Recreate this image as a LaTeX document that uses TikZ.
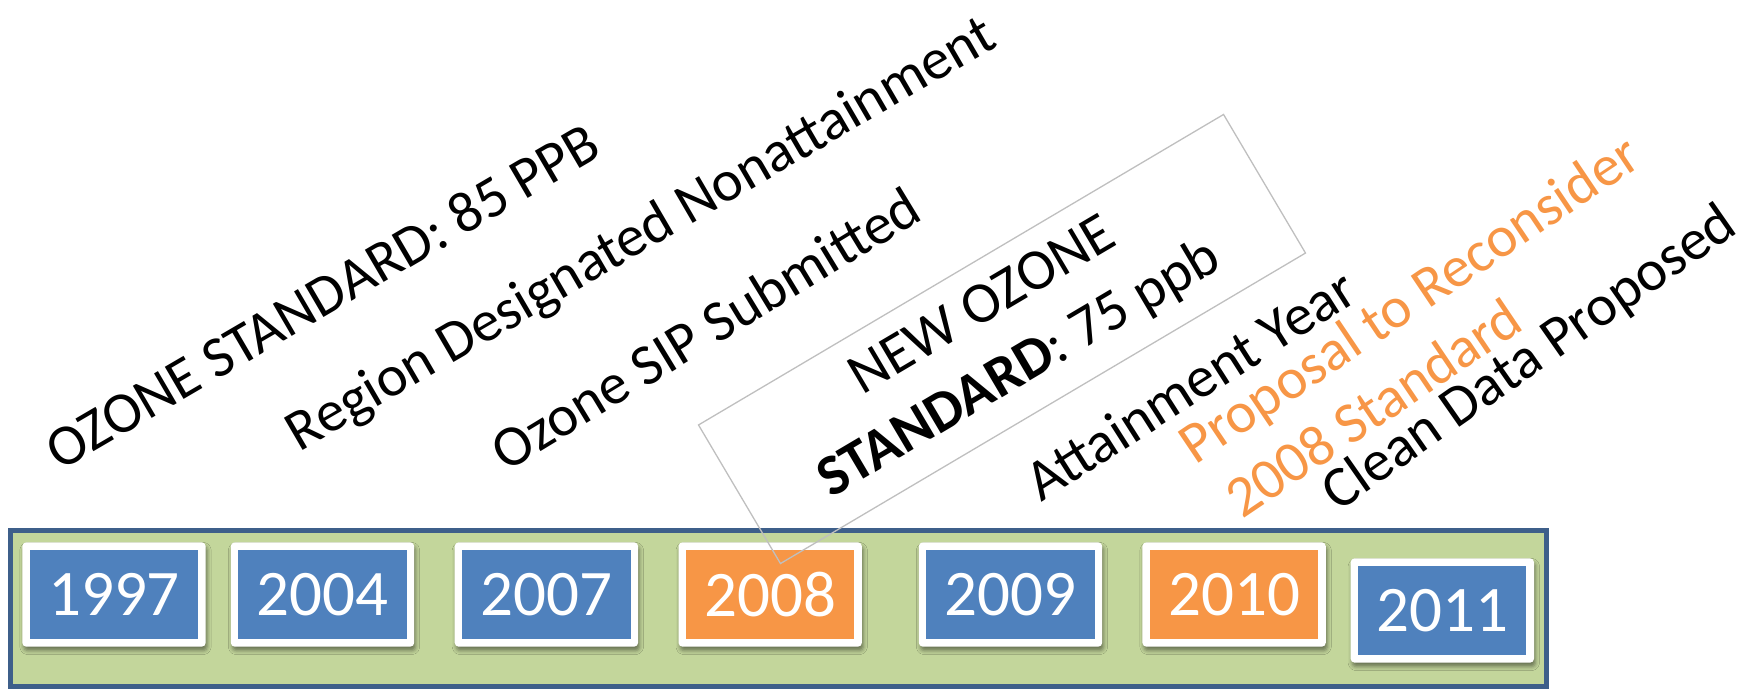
\documentclass[tikz,border=0pt]{standalone}
\usepackage{fontspec}
\setmainfont{Carlito}
\usetikzlibrary{shadows.blur}
\definecolor{barfill}{HTML}{C3D69B}
\definecolor{barline}{HTML}{3E5F8A}
\definecolor{yblue}{HTML}{4F81BD}
\definecolor{yorange}{HTML}{F79646}
\definecolor{boxgray}{HTML}{BFBFBF}
\begin{document}
\begin{tikzpicture}[x=1pt,y=-1pt,
  yearframe/.style={fill=white, rounded corners=4pt, minimum width=183.4pt,
    minimum height=104.4pt, inner sep=0pt,
    blur shadow={shadow xshift=1.5pt, shadow yshift=-4pt, shadow blur radius=4pt, shadow opacity=45}},
  yearcell/.style={minimum width=168.3pt, minimum height=88.7pt, inner sep=0pt,
    text=white, font=\fontsize{65}{78}\selectfont},
  note/.style={font=\fontsize{58}{70}\selectfont, anchor=base, inner sep=0pt},
]
\useasboundingbox (0,0) rectangle (1749,690);
% timeline bar
\node[draw=barline, line width=5pt, fill=barfill, minimum width=1536pt,
      minimum height=156.5pt, inner sep=0pt] (bar) at (778,608.3) {};
% year boxes
\node[yearframe] (f1997) at (114,594.5) {};
\node[yearcell, fill=yblue] (c1997) at (f1997.center) {1997};
\node[yearframe] (f2004) at (322.5,594.5) {};
\node[yearcell, fill=yblue] (c2004) at (f2004.center) {2004};
\node[yearframe] (f2007) at (546.4,594.5) {};
\node[yearcell, fill=yblue] (c2007) at (f2007.center) {2007};
\node[yearframe] (f2008) at (770.2,594.5) {};
\node[yearcell, fill=yorange] (c2008) at (f2008.center) {2008};
\node[yearframe] (f2009) at (1010.5,594.5) {};
\node[yearcell, fill=yblue] (c2009) at (f2009.center) {2009};
\node[yearframe] (f2010) at (1234.1,594.5) {};
\node[yearcell, fill=yorange] (c2010) at (f2010.center) {2010};
\node[yearframe] (f2011) at (1442.3,610.5) {};
\node[yearcell, fill=yblue] (c2011) at (f2011.center) {2011};
% annotations
\node[note, rotate=30.3] (n1) at (332,313) {OZONE STANDARD: 85 PPB};
\node[note, rotate=30.2] (n2) at (649.4,248.7) {Region Designated Nonattainment};
\node[note, rotate=31.3] (n3) at (715.7,345.5) {Ozone SIP Submitted};
\node[draw=boxgray, line width=1.3pt, rotate=30.6, minimum width=610pt,
      minimum height=161pt, align=center, inner sep=0pt,
      font=\fontsize{58}{73}\selectfont] (n4) at (1002,339)
      {NEW OZONE\\\textbf{STANDARD}: 75 ppb};
\node[note, rotate=32.5] (n5) at (1200.6,401.1) {Attainment Year};
\node[note, rotate=33.9, text=yorange] (n6) at (1419.8,314.9) {Proposal to Reconsider};
\node[note, rotate=34, text=yorange] (n7) at (1384,423.9) {2008 Standard};
\node[note, rotate=34.9] (n8) at (1539,371.9) {Clean Data Proposed};
\end{tikzpicture}
\end{document}
